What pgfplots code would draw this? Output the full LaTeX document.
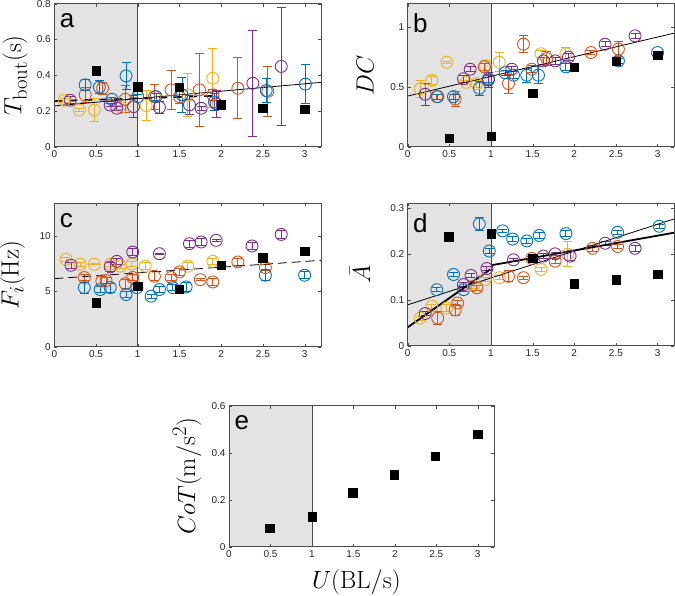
\documentclass[border=0pt]{standalone}
\usepackage[no-math]{fontspec}
\setmainfont{Liberation Sans}
\usepackage{pgfplots}
\pgfplotsset{compat=1.18}
\definecolor{cblue}{rgb}{0,0.447,0.741}
\definecolor{corange}{rgb}{0.85,0.325,0.098}
\definecolor{cyellow}{rgb}{0.929,0.694,0.125}
\definecolor{cpurple}{rgb}{0.494,0.184,0.556}
\definecolor{shade}{gray}{0.89}
\tikzset{letter/.style={font=\fontsize{26}{30}\selectfont, anchor=north west, inner sep=0pt}}
\pgfplotsset{
  panel/.style={scale only axis, width=267pt, height=143pt, xmin=0, xmax=3.2,
    xtick={0,0.5,1,1.5,2,2.5,3}, tick align=inside, major tick length=3pt,
    axis line style={black!70, line width=0.5pt}, tick style={black!70},
    ticklabel style={font=\fontsize{10}{12}\selectfont, color=black!85},
    /pgf/number format/assume math mode=true, axis on top,
    ylabel style={font=\fontsize{24.88}{30}\selectfont, anchor=center},
    xlabel style={font=\fontsize{24.88}{30}\selectfont, anchor=center}},
  circ/.style={only marks, mark=o, mark size=6pt, line width=0.9pt,
    error bars/y dir=both, error bars/y explicit,
    error bars/error bar style={line width=0.9pt},
    error bars/error mark options={rotate=90, mark size=4.5pt, line width=0.9pt}},
  sq/.style={only marks, mark=square*, mark size=4.2pt, black}
}
\begin{document}
\begin{tikzpicture}
\path[use as bounding box] (0,0) rectangle (675pt,596pt);
% ---------- a ----------
\begin{axis}[panel, at={(54.3pt,449.3pt)}, anchor=south west, ymin=0, ymax=0.8,
  ytick={0,0.2,0.4,0.6,0.8}, ylabel={$T_{\mathrm{bout}}(\mathrm{s})$},
  ylabel style={at={(axis description cs:-0.147,0.5)}}]
\addplot[fill=shade, draw=none] coordinates {(0,0) (1,0) (1,0.8) (0,0.8)} -- cycle;
\addplot[black!70, line width=0.6pt] coordinates {(1,0) (1,0.8)};
\addplot[circ, color=cyellow] coordinates {(0.12,0.26)+-(0,0.01) (0.3,0.205)+-(0,0.01) (0.48,0.205)+-(0,0.065) (0.8,0.22)+-(0,0.01) (1.1,0.23)+-(0,0.085) (1.6,0.29)+-(0,0.12) (1.9,0.383)+-(0,0.165)};
\addplot[circ, color=corange] coordinates {(0.37,0.29)+-(0,0.04) (0.58,0.327)+-(0,0.035) (0.85,0.265)+-(0,0.075) (1.2,0.28)+-(0,0.07) (1.4,0.318)+-(0,0.11) (1.5,0.28)+-(0,0.04) (1.74,0.318)+-(0,0.205) (1.9,0.29)+-(0,0.03) (2.2,0.327)+-(0,0.17) (2.56,0.31)+-(0,0.14)};
\addplot[circ, color=cblue] coordinates {(0.37,0.346)+-(0,0.03) (0.54,0.333)+-(0,0.035) (0.69,0.265)+-(0,0.01) (0.86,0.396)+-(0,0.075) (1.0,0.28)+-(0,0.01) (1.22,0.28)+-(0,0.02) (1.53,0.29)+-(0,0.1) (1.92,0.25)+-(0,0.05) (2.54,0.314)+-(0,0.065) (3.01,0.35)+-(0,0.11)};
\addplot[circ, color=cpurple] coordinates {(0.19,0.26)+-(0,0.02) (0.67,0.233)+-(0,0.01) (0.75,0.215)+-(0,0.01) (0.95,0.224)+-(0,0.06) (1.26,0.22)+-(0,0.035) (1.62,0.234)+-(0,0.055) (1.76,0.215)+-(0,0.01) (1.94,0.24)+-(0,0.075) (2.38,0.355)+-(0,0.295) (2.72,0.449)+-(0,0.33)};
\addplot[black, line width=1.6pt, dash pattern=on 8pt off 7pt] coordinates {(0,0.255) (1.95,0.285)};
\addplot[black, line width=0.8pt] coordinates {(0,0.228) (3.2,0.36)};
\addplot[sq] coordinates {(0.5,0.426) (1,0.336) (1.5,0.333) (2,0.234) (2.5,0.215) (3,0.211)};
\node[letter] at (axis description cs:0.02,0.93) {a};
\end{axis}
% ---------- b ----------
\begin{axis}[panel, at={(407.7pt,449.3pt)}, anchor=south west, width=266.5pt, ymin=0, ymax=1.2,
  ytick={0,0.5,1}, ylabel={$DC$},
  ylabel style={at={(axis description cs:-0.16,0.5)}}]
\addplot[fill=shade, draw=none] coordinates {(0,0) (1,0) (1,1.2) (0,1.2)} -- cycle;
\addplot[black!70, line width=0.6pt] coordinates {(1,0) (1,1.2)};
\addplot[circ, color=cyellow] coordinates {(0.15,0.486)+-(0,0.07) (0.29,0.556)+-(0,0.03) (0.47,0.708)+-(0,0.01) (0.7,0.54)+-(0,0.02) (0.83,0.53)+-(0,0.03) (0.93,0.68)+-(0,0.04) (1.1,0.708)+-(0,0.08) (1.6,0.78)+-(0,0.03) (1.9,0.78)+-(0,0.05)};
\addplot[circ, color=corange] coordinates {(0.35,0.42)+-(0,0.02) (0.57,0.40)+-(0,0.06) (0.92,0.67)+-(0,0.03) (1.21,0.53)+-(0,0.08) (1.39,0.86)+-(0,0.07) (1.49,0.65)+-(0,0.03) (1.67,0.74)+-(0,0.06) (2.2,0.79)+-(0,0.02) (2.53,0.82)+-(0,0.06)};
\addplot[circ, color=cblue] coordinates {(0.36,0.42)+-(0,0.02) (0.55,0.42)+-(0,0.02) (0.86,0.49)+-(0,0.06) (0.97,0.57)+-(0,0.03) (1.17,0.62)+-(0,0.02) (1.27,0.6)+-(0,0.03) (1.43,0.6)+-(0,0.06) (1.57,0.6)+-(0,0.07) (1.9,0.67)+-(0,0.03) (2.53,0.72)+-(0,0.02) (3.0,0.79)+-(0,0.01)};
\addplot[circ, color=cpurple] coordinates {(0.21,0.44)+-(0,0.09) (0.67,0.57)+-(0,0.03) (0.75,0.65)+-(0,0.02) (0.97,0.56)+-(0,0.06) (1.25,0.65)+-(0,0.02) (1.63,0.72)+-(0,0.03) (1.77,0.72)+-(0,0.03) (1.93,0.75)+-(0,0.03) (2.37,0.86)+-(0,0.02) (2.73,0.93)+-(0,0.02)};
\addplot[black, line width=0.8pt] coordinates {(0,0.425) (3.2,0.953)};
\addplot[sq] coordinates {(0.5,0.07) (1,0.089) (1.5,0.45) (2,0.667) (2.5,0.717) (3,0.77)};
\node[letter] at (axis description cs:0.02,0.93) {b};
\end{axis}
% ---------- c ----------
\begin{axis}[panel, at={(54.3pt,249.3pt)}, anchor=south west, height=143.4pt, ymin=0, ymax=13,
  ytick={0,5,10}, ylabel={$F_i(\mathrm{Hz})$},
  ylabel style={at={(axis description cs:-0.157,0.5)}}]
\addplot[fill=shade, draw=none] coordinates {(0,0) (1,0) (1,13) (0,13)} -- cycle;
\addplot[black!70, line width=0.6pt] coordinates {(1,0) (1,13)};
\addplot[circ, color=cyellow] coordinates {(0.14,7.92)+-(0,0.2) (0.31,7.47)+-(0,0.2) (0.48,7.47)+-(0,0.05) (0.67,7.47)+-(0,0.2) (0.79,7.3)+-(0,0.2) (0.93,7.5)+-(0,0.2) (1.09,7.3)+-(0,0.3) (1.6,7.3)+-(0,0.3) (1.9,7.74)+-(0,0.3)};
\addplot[circ, color=corange] coordinates {(0.36,6.27)+-(0,0.3) (0.57,5.96)+-(0,0.4) (0.62,6.0)+-(0,0.3) (0.85,5.72)+-(0,0.4) (0.94,6.27)+-(0,0.3) (1.2,6.39)+-(0,0.4) (1.4,6.27)+-(0,0.3) (1.5,6.78)+-(0,0.3) (1.75,6.08)+-(0,0.1) (1.9,5.87)+-(0,0.3) (2.2,7.68)+-(0,0.3) (2.53,7.17)+-(0,0.3)};
\addplot[circ, color=cblue] coordinates {(0.36,5.36)+-(0,0.5) (0.55,5.18)+-(0,0.3) (0.67,5.36)+-(0,0.4) (0.86,4.73)+-(0,0.3) (0.99,5.36)+-(0,0.3) (1.16,4.58)+-(0,0.2) (1.26,5.18)+-(0,0.3) (1.42,5.36)+-(0,0.3) (1.58,5.42)+-(0,0.4) (2.53,6.48)+-(0,0.5) (3.0,6.48)+-(0,0.3)};
\addplot[circ, color=cpurple] coordinates {(0.2,7.38)+-(0,0.3) (0.67,7.23)+-(0,0.4) (0.75,7.74)+-(0,0.3) (0.94,8.58)+-(0,0.3) (1.26,8.43)+-(0,0.05) (1.62,9.34)+-(0,0.3) (1.76,9.49)+-(0,0.3) (1.94,9.64)+-(0,0.1) (2.37,9.13)+-(0,0.3) (2.72,10.18)+-(0,0.4)};
\addplot[black, line width=0.8pt, dash pattern=on 9pt off 5pt] coordinates {(0,6.17) (3.2,7.83)};
\addplot[sq] coordinates {(0.5,3.98) (1,5.5) (1.5,5.2) (2,7.38) (2.5,8.07) (3,8.67)};
\node[letter] at (axis description cs:0.02,0.93) {c};
\end{axis}
% ---------- d ----------
\begin{axis}[panel, at={(407.7pt,250.3pt)}, anchor=south west, width=266.5pt, height=142.4pt, ymin=0, ymax=0.31,
  ytick={0,0.1,0.2,0.3}, ylabel={$\bar{A}$},
  ylabel style={at={(axis description cs:-0.179,0.5)}}]
\addplot[fill=shade, draw=none] coordinates {(0,0) (1,0) (1,0.31) (0,0.31)} -- cycle;
\addplot[black!70, line width=0.6pt] coordinates {(1,0) (1,0.31)};
\addplot[circ, color=cblue] coordinates {(0.35,0.122)+-(0,0.005) (0.55,0.155)+-(0,0.004) (0.67,0.122)+-(0,0.004) (0.86,0.265)+-(0,0.015) (0.98,0.206)+-(0,0.006) (1.14,0.25)+-(0,0.004) (1.26,0.232)+-(0,0.006) (1.43,0.228)+-(0,0.006) (1.58,0.24)+-(0,0.006) (1.9,0.244)+-(0,0.006) (2.52,0.247)+-(0,0.004) (3.02,0.26)+-(0,0.004)};
\addplot[circ, color=cyellow] coordinates {(0.15,0.06)+-(0,0.004) (0.29,0.086)+-(0,0.004) (0.47,0.082)+-(0,0.008) (0.79,0.13)+-(0,0.005) (0.93,0.144)+-(0,0.004) (1.1,0.148)+-(0,0.004) (1.6,0.166)+-(0,0.005) (1.92,0.199)+-(0,0.027)};
\addplot[circ, color=corange] coordinates {(0.36,0.06)+-(0,0.014) (0.57,0.078)+-(0,0.012) (0.6,0.093)+-(0,0.005) (0.83,0.126)+-(0,0.006) (1.21,0.151)+-(0,0.012) (1.39,0.148)+-(0,0.003) (1.49,0.19)+-(0,0.004) (1.77,0.184)+-(0,0.005) (2.22,0.212)+-(0,0.006) (2.52,0.216)+-(0,0.005)};
\addplot[circ, color=cpurple] coordinates {(0.21,0.07)+-(0,0.004) (0.67,0.133)+-(0,0.004) (0.76,0.153)+-(0,0.004) (0.95,0.168)+-(0,0.005) (1.27,0.187)+-(0,0.004) (1.63,0.195)+-(0,0.005) (1.77,0.2)+-(0,0.004) (1.95,0.195)+-(0,0.01) (2.37,0.223)+-(0,0.004) (2.73,0.212)+-(0,0.006)};
\addplot[black, line width=0.8pt] coordinates {(0,0.089) (3.2,0.276)};
\addplot[black, line width=1.8pt] coordinates {(0,0.04) (0.99,0.166)};
\addplot[black, line width=1.8pt] coordinates {(1,0.175) (3.2,0.246)};
\addplot[sq] coordinates {(0.49,0.237) (1,0.244) (1.5,0.19) (2,0.135) (2.5,0.144) (3,0.155)};
\node[letter] at (axis description cs:0.02,0.93) {d};
\end{axis}
% ---------- e ----------
\begin{axis}[panel, at={(229pt,49.3pt)}, anchor=south west, width=265.3pt, height=141pt, ymin=0, ymax=0.6,
  ytick={0,0.2,0.4,0.6}, ylabel={$CoT(\mathrm{m/s^2})$}, xlabel={$U(\mathrm{BL/s})$},
  ylabel style={at={(axis description cs:-0.158,0.5)}},
  xlabel style={at={(axis description cs:0.48,-0.25)}}]
\addplot[fill=shade, draw=none] coordinates {(0,0) (1,0) (1,0.6) (0,0.6)} -- cycle;
\addplot[black!70, line width=0.6pt] coordinates {(1,0) (1,0.6)};
\addplot[sq] coordinates {(0.49,0.078) (1,0.128) (1.49,0.23) (1.99,0.306) (2.49,0.386) (3,0.478)};
\node[letter] at (axis description cs:0.02,0.93) {e};
\end{axis}
\end{tikzpicture}
\end{document}
